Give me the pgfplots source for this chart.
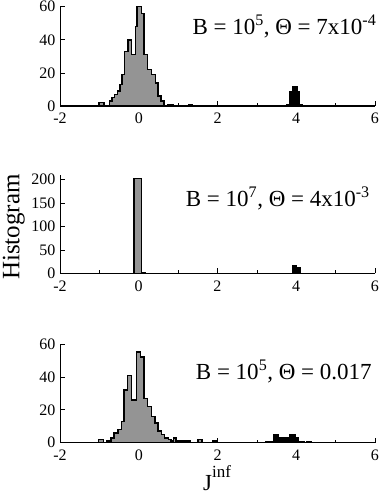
\documentclass[border=0pt]{standalone}
\usepackage{fontspec}
\setmainfont{Liberation Serif}
\usepackage{pgfplots}
\pgfplotsset{compat=1.18}

\pgfplotsset{
  histo/.style={
    width=315pt, scale only axis, clip=false,
    xmin=-2, xmax=6, ymin=0,
    axis x line=bottom, axis y line=left,
    axis line style={-, line width=0.8pt},
    tick align=inside, tick style={black, line width=0.7pt},
    xtick={-2,0,2,4,6}, minor xtick={-1,1,3,5},
    major tick length=5pt, minor tick length=3pt,
    ticklabel style={font=\fontsize{16}{16}\selectfont, inner sep=0.5pt},
    /pgf/number format/assume math mode=true,
    xticklabel style={yshift=-6.5pt},
    yticklabel style={xshift=-4pt},
  },
  gray bars/.style={const plot, fill=black!42, draw=black, line width=1.5pt},
  black bars/.style={const plot, fill=black, draw=black, line width=1pt},
}
\tikzset{note/.style={font=\fontsize{23}{24}\selectfont, anchor=base east, inner sep=0pt}}

\begin{document}
\begin{tikzpicture}
\useasboundingbox (0,0) rectangle (382pt,494pt);

% top panel
\begin{axis}[histo, at={(60pt,388pt)}, anchor=south west, height=99.3pt,
  ymax=60, ytick={0,20,40,60}]
\addplot[gray bars] coordinates {(-2,0) (-1.01,2) (-0.88,0) (-0.74,3) (-0.68,5)
  (-0.61,7) (-0.54,9) (-0.48,13) (-0.42,19) (-0.36,33) (-0.27,40) (-0.19,31)
  (-0.08,48) (-0.04,60) (0.07,56) (0.13,31) (0.22,22) (0.32,19) (0.42,14)
  (0.49,6) (0.56,3) (0.64,0) (0.74,1) (0.87,0) (1.27,1) (1.37,0) (6,0)} \closedcycle;
\addplot[black bars] coordinates {(3.76,1) (3.84,9) (3.91,12) (4.02,9) (4.09,1) (4.17,0)} \closedcycle;
\node[note] at (axis description cs:1.005,0.715)
  {B = 10\textsuperscript{5}, Θ = 7x10\textsuperscript{-4}};
\end{axis}

% middle panel
\begin{axis}[histo, at={(60pt,220.7pt)}, anchor=south west, height=98.3pt,
  ymax=210, ytick={0,50,100,150,200}]
\addplot[gray bars] coordinates {(-2,0) (-0.12,202) (0.07,2) (0.17,0) (6,0)} \closedcycle;
\addplot[black bars] coordinates {(3.91,16) (4.01,12) (4.12,0)} \closedcycle;
\node[note] at (axis description cs:0.984,0.68)
  {B = 10\textsuperscript{7}, Θ = 4x10\textsuperscript{-3}};
\end{axis}

% bottom panel
\begin{axis}[histo, at={(60pt,51.3pt)}, anchor=south west, height=98.7pt,
  ymax=60, ytick={0,20,40,60}]
\addplot[gray bars] coordinates {(-2,0) (-1.02,2) (-0.89,0) (-0.82,1) (-0.71,3)
  (-0.63,6) (-0.53,8) (-0.44,13) (-0.37,32) (-0.28,41) (-0.18,26) (-0.06,55)
  (0.05,52) (0.13,27) (0.22,22) (0.32,16) (0.41,12) (0.49,7) (0.58,5) (0.66,3)
  (0.75,2) (0.82,1) (0.88,3) (0.95,1) (1.30,0) (1.51,2) (1.60,0) (1.87,1)
  (1.98,0) (6,0)} \closedcycle;
\addplot[black bars] coordinates {(3.22,1) (3.41,5) (3.54,3) (3.84,5) (3.97,3)
  (4.05,1) (4.20,0) (4.27,1) (4.39,0)} \closedcycle;
\node[note] at (axis description cs:0.99,0.645)
  {B = 10\textsuperscript{5}, Θ = 0.017};
\end{axis}

\node[rotate=90, anchor=north, inner sep=0pt, font=\fontsize{25}{25}\selectfont]
  at (2.5pt,267pt) {Histogram};
\node[anchor=base, inner sep=0pt, font=\fontsize{23}{23}\selectfont]
  at (217pt,3.5pt) {J\raisebox{13pt}{\fontsize{17}{17}\selectfont inf}};
\end{tikzpicture}
\end{document}
